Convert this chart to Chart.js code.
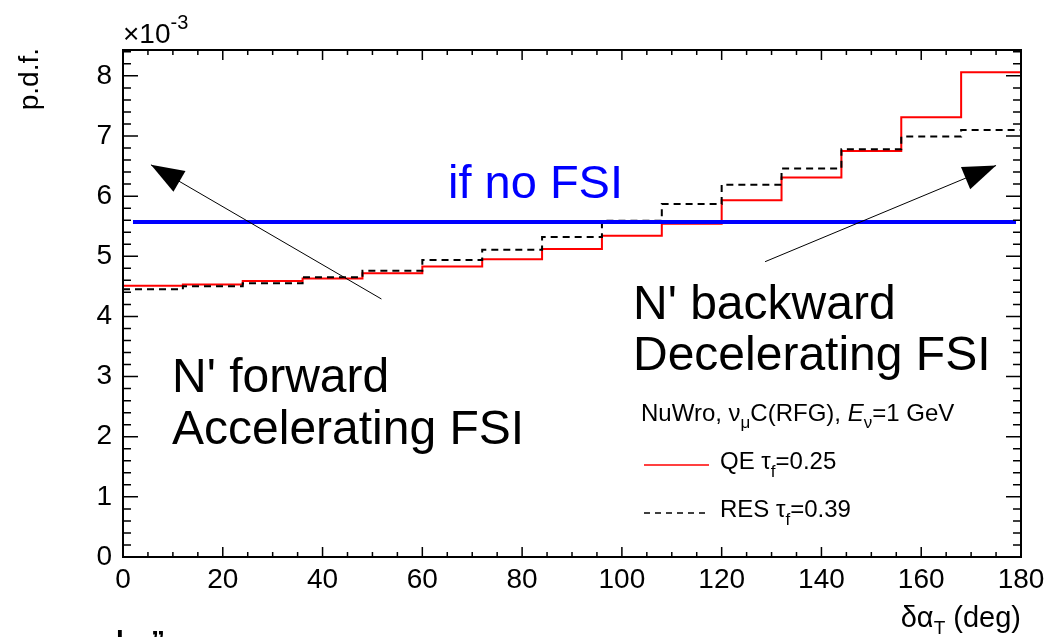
<!DOCTYPE html>
<html>
<head>
<meta charset="utf-8">
<script src="https://cdn.jsdelivr.net/npm/chart.js@4.4.1/dist/chart.umd.min.js"></script>
<style>
  html, body { margin: 0; padding: 0; background: #fff; }
  canvas { display: block; }
</style>
</head>
<body>
<canvas id="c" width="1051" height="637"></canvas>
<script>
// histogram binning (deg) and bin contents (x 10^-3)
const binEdges = [0, 12, 24, 36, 48, 60, 72, 84, 96, 108, 120, 132, 144, 156, 168, 180];
const qeValues = [4.51, 4.53, 4.59, 4.63, 4.72, 4.83, 4.95, 5.12, 5.34, 5.54, 5.93, 6.31, 6.75, 7.31, 8.06];
const resValues = [4.45, 4.50, 4.55, 4.65, 4.76, 4.94, 5.11, 5.32, 5.59, 5.87, 6.19, 6.46, 6.78, 6.99, 7.10];

// flat "no FSI" reference
const noFsiLevel = 5.57;
const noFsiRange = [2, 179];

// annotation arrows, [tail, tip] in data units
const arrowForward = [{ x: 51.8, y: 4.29 }, { x: 5.6, y: 6.52 }];
const arrowBackward = [{ x: 128.7, y: 4.91 }, { x: 175, y: 6.51 }];

const xTickValues = [0, 20, 40, 60, 80, 100, 120, 140, 160, 180];
const yTickValues = [0, 1, 2, 3, 4, 5, 6, 7, 8];
const yMax = 8.43;

const FONT = '"Liberation Sans", Arial, Helvetica, sans-serif';

// step histogram: one point per left edge, plus the closing right edge
function histPoints(values) {
  return binEdges.map((e, i) => ({ x: e, y: values[Math.min(i, values.length - 1)] }));
}

function drawRich(ctx, x, y, parts, align) {
  let total = 0;
  parts.forEach(p => {
    ctx.font = (p.italic ? 'italic ' : '') + p.size + 'px ' + FONT;
    total += ctx.measureText(p.t).width;
  });
  if (align === 'right') x -= total;
  ctx.textAlign = 'left';
  ctx.textBaseline = 'alphabetic';
  parts.forEach(p => {
    ctx.font = (p.italic ? 'italic ' : '') + p.size + 'px ' + FONT;
    ctx.fillText(p.t, x, y + (p.dy || 0));
    x += ctx.measureText(p.t).width;
  });
}

const rootStyle = {
  id: 'rootStyle',
  afterDatasetsDraw(chart) {
    const ctx = chart.ctx;
    const { left, right, top, bottom } = chart.chartArea;
    const xs = chart.scales.x, ys = chart.scales.y;
    ctx.save();

    // arrow heads
    ctx.fillStyle = '#000';
    [arrowForward, arrowBackward].forEach(a => {
      const x0 = xs.getPixelForValue(a[0].x), y0 = ys.getPixelForValue(a[0].y);
      const x1 = xs.getPixelForValue(a[1].x), y1 = ys.getPixelForValue(a[1].y);
      const ang = Math.atan2(y1 - y0, x1 - x0);
      const len = 33, hw = 12;
      const bx = x1 - len * Math.cos(ang), by = y1 - len * Math.sin(ang);
      ctx.beginPath();
      ctx.moveTo(x1, y1);
      ctx.lineTo(bx + hw * Math.sin(ang), by - hw * Math.cos(ang));
      ctx.lineTo(bx - hw * Math.sin(ang), by + hw * Math.cos(ang));
      ctx.closePath();
      ctx.fill();
    });

    // frame
    ctx.strokeStyle = '#000';
    ctx.lineWidth = 2;
    ctx.strokeRect(left, top, right - left, bottom - top);

    // tick marks on all four sides, pointing inwards
    ctx.lineWidth = 1.5;
    ctx.beginPath();
    for (let v = 0; v <= 180; v += 5) {
      const px = xs.getPixelForValue(v);
      const len = v % 20 === 0 ? 10 : 5;
      ctx.moveTo(px, bottom); ctx.lineTo(px, bottom - len);
      ctx.moveTo(px, top); ctx.lineTo(px, top + len);
    }
    for (let i = 0; i * 0.2 <= yMax; i++) {
      const py = ys.getPixelForValue(i * 0.2);
      const len = i % 5 === 0 ? 15 : 8;
      ctx.moveTo(left, py); ctx.lineTo(left + len, py);
      ctx.moveTo(right, py); ctx.lineTo(right - len, py);
    }
    ctx.stroke();
    ctx.restore();
  },
  afterDraw(chart) {
    const ctx = chart.ctx;
    ctx.save();
    ctx.fillStyle = '#000';

    // exponent and axis titles
    drawRich(ctx, 123, 43, [
      { t: '\u00d710', size: 28 },
      { t: '-3', size: 20, dy: -14 }
    ]);
    drawRich(ctx, 1021, 627, [
      { t: '\u03b4\u03b1', size: 29 },
      { t: 'T', size: 19, dy: 7 },
      { t: ' (deg)', size: 29 }
    ], 'right');
    ctx.save();
    ctx.translate(38, 48);
    ctx.rotate(-Math.PI / 2);
    ctx.font = '28px ' + FONT;
    ctx.textAlign = 'right';
    ctx.textBaseline = 'alphabetic';
    ctx.fillText('p.d.f.', 0, 0);
    ctx.restore();

    // big labels
    ctx.fillStyle = '#0000ff';
    drawRich(ctx, 448, 198, [{ t: 'if no FSI', size: 47 }]);
    ctx.fillStyle = '#000';
    drawRich(ctx, 633, 319, [{ t: "N' backward", size: 48 }]);
    drawRich(ctx, 633, 370, [{ t: 'Decelerating FSI', size: 48 }]);
    drawRich(ctx, 172, 392, [{ t: "N' forward", size: 48 }]);
    drawRich(ctx, 172, 444, [{ t: 'Accelerating FSI', size: 48 }]);

    // legend
    drawRich(ctx, 641, 421, [
      { t: 'NuWro, \u03bd', size: 24 },
      { t: '\u03bc', size: 17, dy: 7 },
      { t: 'C(RFG), ', size: 24 },
      { t: 'E', size: 24, italic: true },
      { t: '\u03bd', size: 17, dy: 7 },
      { t: '=1 GeV', size: 24 }
    ]);
    ctx.lineWidth = 1.5;
    ctx.strokeStyle = '#ff0000';
    ctx.beginPath(); ctx.moveTo(644, 465); ctx.lineTo(709, 465); ctx.stroke();
    ctx.strokeStyle = '#000';
    ctx.setLineDash([6, 5]);
    ctx.beginPath(); ctx.moveTo(644, 513); ctx.lineTo(709, 513); ctx.stroke();
    ctx.setLineDash([]);
    drawRich(ctx, 720, 469, [
      { t: 'QE \u03c4', size: 24 },
      { t: 'f', size: 17, dy: 8 },
      { t: '=0.25', size: 24 }
    ]);
    drawRich(ctx, 720, 517, [
      { t: 'RES \u03c4', size: 24 },
      { t: 'f', size: 17, dy: 8 },
      { t: '=0.39', size: 24 }
    ]);

    // clipped text from the next page
    ctx.font = 'bold 28px ' + FONT;
    ctx.fillText('l', 116, 650);
    ctx.fillText('\u201d', 151, 650);
    ctx.restore();
  }
};

new Chart(document.getElementById('c'), {
  type: 'line',
  data: {
    datasets: [
      {
        data: arrowForward, borderColor: '#000', borderWidth: 1,
        pointRadius: 0, fill: false, order: 0
      },
      {
        data: arrowBackward, borderColor: '#000', borderWidth: 1,
        pointRadius: 0, fill: false, order: 0
      },
      {
        data: [{ x: noFsiRange[0], y: noFsiLevel }, { x: noFsiRange[1], y: noFsiLevel }],
        borderColor: '#0000ff', borderWidth: 4, pointRadius: 0, fill: false, order: 1
      },
      {
        label: 'RES', data: histPoints(resValues), borderColor: '#000', borderWidth: 2,
        borderDash: [7, 5], stepped: 'before', pointRadius: 0, fill: false, order: 2
      },
      {
        label: 'QE', data: histPoints(qeValues), borderColor: '#ff0000', borderWidth: 2,
        stepped: 'before', pointRadius: 0, fill: false, order: 3
      }
    ]
  },
  options: {
    responsive: false,
    animation: false,
    devicePixelRatio: 1,
    layout: { padding: { top: 50, right: 30, left: 0, bottom: 0 } },
    plugins: { legend: { display: false }, tooltip: { enabled: false } },
    scales: {
      x: {
        type: 'linear', min: 0, max: 180,
        afterFit: s => { s.height = 80; },
        afterBuildTicks: s => { s.ticks = xTickValues.map(v => ({ value: v })); },
        grid: { display: false, drawTicks: false },
        border: { display: false },
        ticks: { color: '#000', font: { family: FONT, size: 28 }, padding: 6, maxRotation: 0, autoSkip: false }
      },
      y: {
        type: 'linear', min: 0, max: yMax,
        afterFit: s => { s.width = 123; },
        afterBuildTicks: s => { s.ticks = yTickValues.map(v => ({ value: v })); },
        grid: { display: false, drawTicks: false },
        border: { display: false },
        ticks: { color: '#000', font: { family: FONT, size: 28 }, padding: 11 }
      }
    }
  },
  plugins: [rootStyle]
});
</script>
</body>
</html>
